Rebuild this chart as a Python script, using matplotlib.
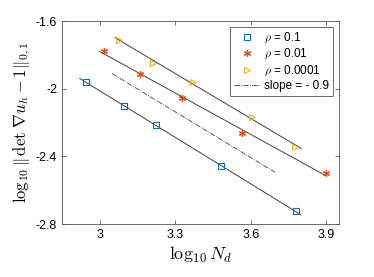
import numpy as np
import matplotlib
matplotlib.use('Agg')
import matplotlib.pyplot as plt

plt.rcParams['font.family'] = ['Liberation Sans', 'DejaVu Sans']
plt.rcParams['mathtext.fontset'] = 'cm'

# data
x_01 = [2.944, 3.096, 3.223, 3.483, 3.779]
y_01 = [-1.963, -2.100, -2.213, -2.459, -2.725]
x_001 = [3.016, 3.158, 3.327, 3.565, 3.899]
y_001 = [-1.779, -1.911, -2.057, -2.260, -2.499]
x_00001 = [3.078, 3.213, 3.371, 3.604, 3.777]
y_00001 = [-1.714, -1.846, -1.961, -2.166, -2.345]
fit_ranges = [(2.92, 3.80), (3.00, 3.90), (3.06, 3.80)]
slope_x = [3.049, 3.696]
slope_y0 = -1.911
slope = -0.9

blue = '#0072BD'
orange = '#D95319'
yellow = '#EDB120'
grey = '#404040'

fig = plt.figure(figsize=(3.74, 2.77), dpi=100)
ax = fig.add_axes([0.166, 0.191, 0.740, 0.733])

series = [(x_01, y_01, blue, 's', r'$\rho$ = 0.1'),
          (x_001, y_001, orange, (6, 2, 0), r'$\rho$ = 0.01'),
          (x_00001, y_00001, yellow, '>', r'$\rho$ = 0.0001')]

handles = []
for (xs, ys, c, m, lab), (x0, x1) in zip(series, fit_ranges):
    p = np.polyfit(xs, ys, 1)
    xx = np.array([x0, x1])
    ax.plot(xx, np.polyval(p, xx), color=grey, lw=0.7)
    if m == 's' or m == '>':
        h, = ax.plot(xs, ys, ls='none', marker=m, mfc='none', mec=c,
                     ms=4, mew=0.8, label=lab)
    else:
        h, = ax.plot(xs, ys, ls='none', marker=m, color=c,
                     ms=5, mew=0.9, label=lab)
    handles.append(h)

sx = np.array(slope_x)
h, = ax.plot(sx, slope_y0 + slope * (sx - slope_x[0]), color=grey,
             lw=0.6, ls='-.', label='slope = - 0.9')
handles.append(h)

ax.set_xlim(2.85, 3.95)
ax.set_ylim(-2.8, -1.6)
ax.set_xticks([3, 3.3, 3.6, 3.9])
ax.set_xticklabels(['3', '3.3', '3.6', '3.9'])
ax.set_yticks([-2.8, -2.4, -2, -1.6])
ax.set_yticklabels(['-2.8', '-2.4', '-2', '-1.6'])
ax.tick_params(direction='in', top=True, right=True, labelsize=9,
               length=3, width=0.6, color='#555555')
for s in ax.spines.values():
    s.set_linewidth(0.6)
    s.set_color('#555555')

ax.set_xlabel(r'$\log_{10} N_d$', fontsize=13, labelpad=3)
ax.set_ylabel(r'$\log_{10}\|\,\det\,\nabla u_h - 1\|_{0,1}$', fontsize=12,
              labelpad=2)

leg = ax.legend(handles=handles, loc='upper right', fontsize=8.5,
                fancybox=False, framealpha=1, edgecolor='#555555',
                handlelength=2.2, borderpad=0.3, labelspacing=0.2,
                handletextpad=0.4, borderaxespad=0.5)
leg.get_frame().set_linewidth(0.6)

fig.savefig('out.png', dpi=100)
